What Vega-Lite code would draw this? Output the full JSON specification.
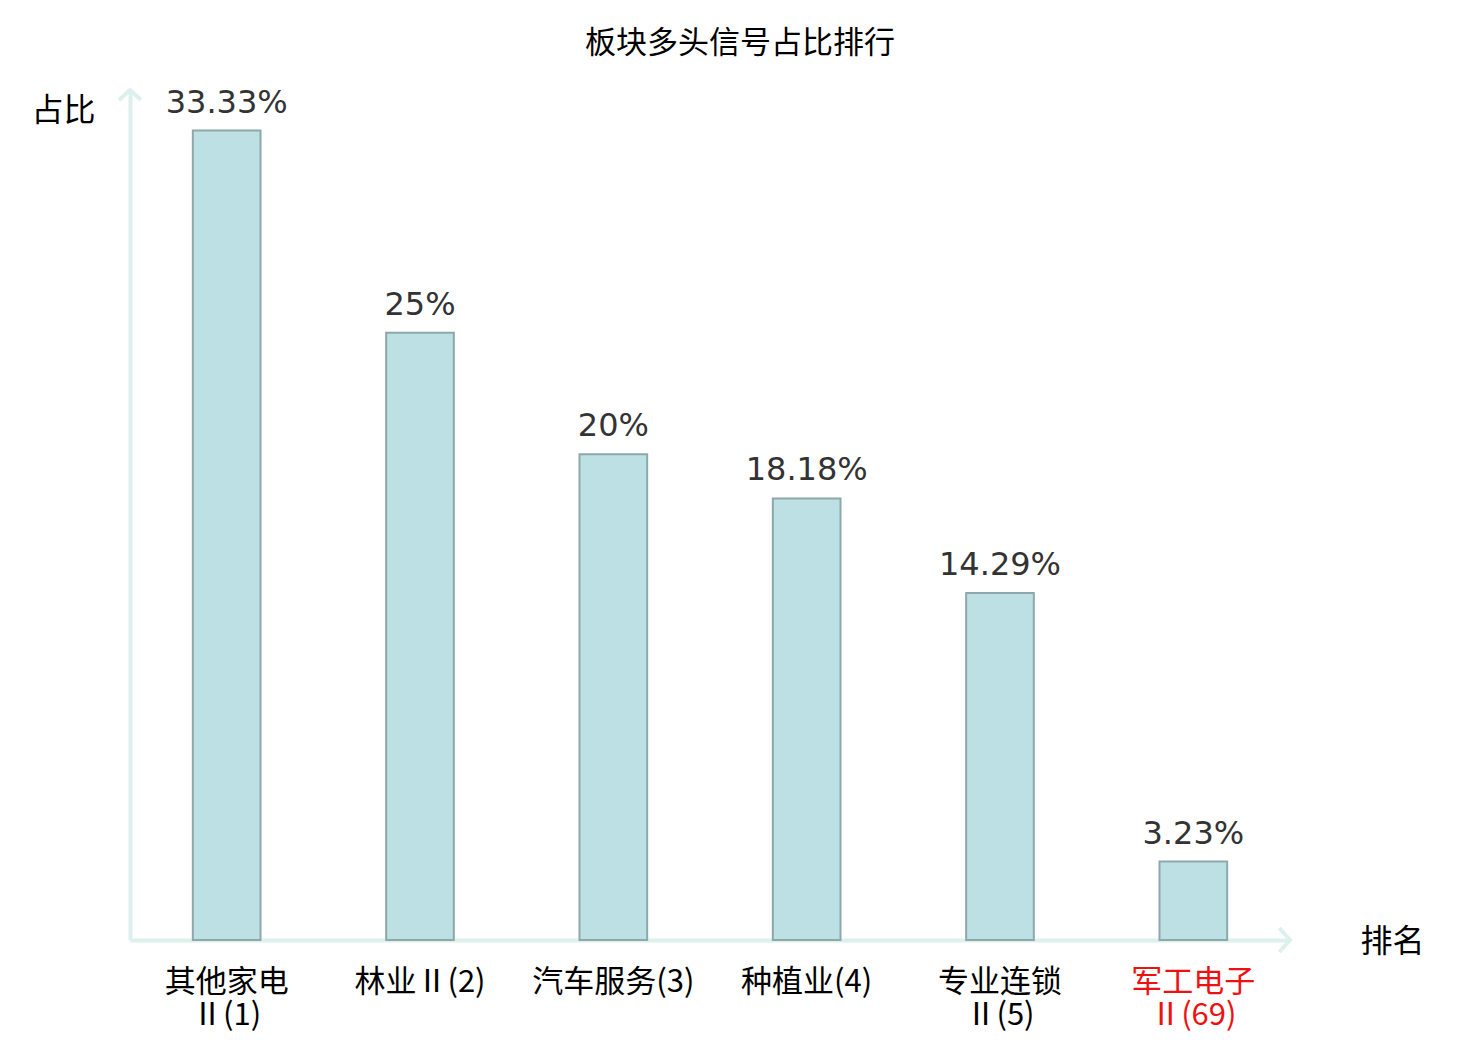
{
  "$schema": "https://vega.github.io/schema/vega-lite/v6.json",
  "autosize": "none",
  "width": 1160,
  "height": 850,
  "padding": {"left": 130, "top": 90, "right": 190, "bottom": 100},
  "background": "white",
  "config": {"view": {"stroke": null}, "font": "Noto Sans CJK SC"},
  "title": {"text": "板块多头信号占比排行", "font": "Noto Sans CJK SC", "fontSize": 31, "fontWeight": "normal", "color": "#000000", "anchor": "middle", "dx": 30, "offset": 22},
  "datasets": {
    "bars": [
      {"name": "其他家电Ⅱ(1)", "ratio": 0.3333},
      {"name": "林业Ⅱ(2)", "ratio": 0.25},
      {"name": "汽车服务(3)", "ratio": 0.20},
      {"name": "种植业(4)", "ratio": 0.1818},
      {"name": "专业连锁Ⅱ(5)", "ratio": 0.1429},
      {"name": "军工电子Ⅱ(69)", "ratio": 0.0323}
    ],
    "xarrow": [{"px": 1, "py": 0}],
    "yarrow": [{"px": 0, "py": 0.35}]
  },
  "layer": [
    {
      "data": {"name": "bars"},
      "layer": [
        {
          "mark": {"type": "bar", "fill": "#bce0e3", "stroke": "#8ea8a9", "strokeWidth": 2},
          "encoding": {
            "x": {
              "field": "name", "type": "nominal", "sort": null,
              "scale": {"paddingInner": 0.65, "paddingOuter": 0.325},
              "axis": {
                "title": "排名", "titleFont": "Noto Sans CJK SC", "titleFontSize": 32, "titleFontWeight": "normal", "titleColor": "#000000",
                "titleAngle": 0, "titleX": 1262, "titleY": 1, "titleAlign": "center", "titleBaseline": "middle",
                "domain": true, "domainColor": "#dcf1ee", "domainWidth": 4,
                "ticks": false, "labelAngle": 0, "labelFont": "Noto Sans CJK SC", "labelFontSize": 31,
                "labelPadding": 27, "labelLineHeight": 33, "labelBaseline": "top",
                "labelExpr": "length(datum.value) > 7 ? [slice(datum.value, 0, 4), slice(datum.value, 4)] : datum.value",
                "labelColor": {"condition": {"test": "datum.value == '军工电子Ⅱ(69)'", "value": "#ee1111"}, "value": "#000000"}
              }
            },
            "y": {
              "field": "ratio", "type": "quantitative",
              "scale": {"domain": [0, 0.35], "nice": false},
              "axis": {
                "title": "占比", "titleFont": "Noto Sans CJK SC", "titleFontSize": 32, "titleFontWeight": "normal", "titleColor": "#000000",
                "titleAngle": 0, "titleX": -67, "titleY": 20, "titleAlign": "center", "titleBaseline": "middle",
                "domain": true, "domainColor": "#dcf1ee", "domainWidth": 4,
                "ticks": false, "labels": false, "grid": false
              }
            }
          }
        },
        {
          "mark": {"type": "text", "font": "DejaVu Sans", "fontSize": 32, "color": "#333333", "baseline": "alphabetic", "dy": -18},
          "encoding": {
            "x": {"field": "name", "type": "nominal", "sort": null},
            "y": {"field": "ratio", "type": "quantitative"},
            "text": {"field": "ratio", "type": "quantitative", "format": ".2~%"}
          }
        }
      ]
    },
    {
      "data": {"name": "xarrow"},
      "mark": {"type": "point", "shape": "M -0.9 -1 L 0 0 L -0.9 1", "filled": false, "stroke": "#dcf1ee", "strokeWidth": 4, "size": 576, "opacity": 1},
      "encoding": {
        "x": {"field": "px", "type": "quantitative", "scale": {"domain": [0, 1], "nice": false, "zero": false}, "axis": null},
        "y": {"field": "py", "type": "quantitative"}
      }
    },
    {
      "data": {"name": "yarrow"},
      "mark": {"type": "point", "shape": "M -1 0.9 L 0 0 L 1 0.9", "filled": false, "stroke": "#dcf1ee", "strokeWidth": 4, "size": 484, "opacity": 1},
      "encoding": {
        "x": {"field": "px", "type": "quantitative", "scale": {"domain": [0, 1], "nice": false, "zero": false}, "axis": null},
        "y": {"field": "py", "type": "quantitative"}
      }
    }
  ],
  "resolve": {"scale": {"x": "independent"}}
}
